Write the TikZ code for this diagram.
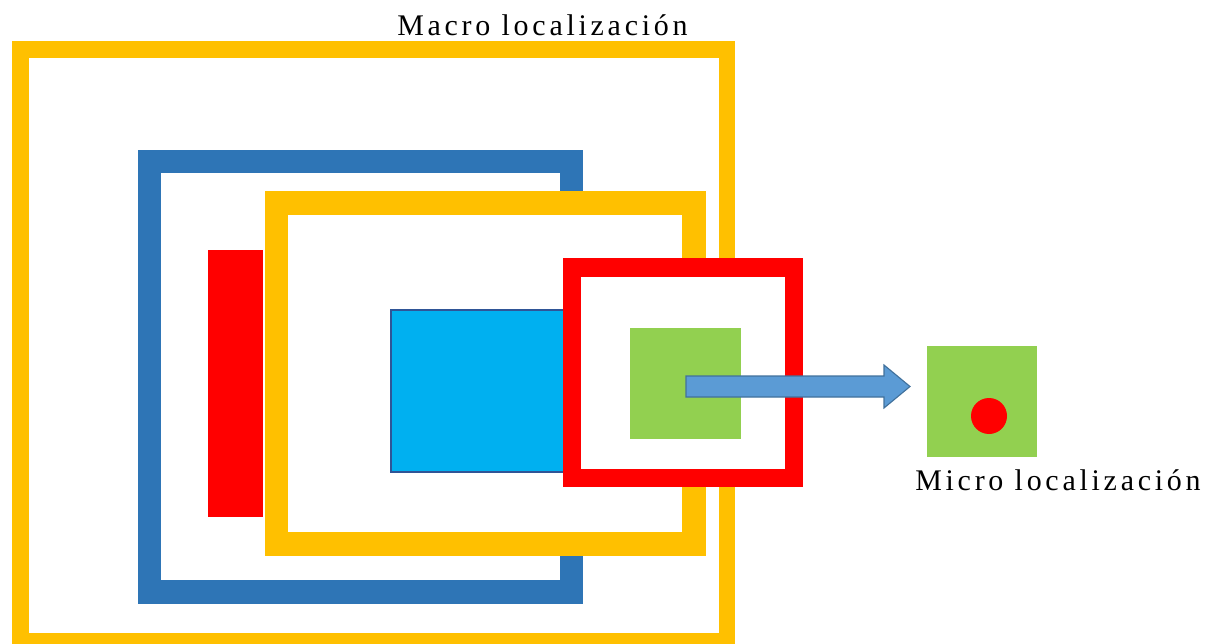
\documentclass[tikz,border=0pt]{standalone}
\usepackage{fontspec}
\setmainfont{Liberation Serif}
\newfontfamily\labelfont[LetterSpace=12.5]{Liberation Serif}
\usetikzlibrary{calc}

\definecolor{frameyellow}{HTML}{FFC000}
\definecolor{frameblue}{HTML}{2E75B6}
\definecolor{zonecyan}{HTML}{00B0F0}
\definecolor{cyanedge}{HTML}{2F5597}
\definecolor{sitegreen}{HTML}{92D050}
\definecolor{arrowblue}{HTML}{5B9BD5}
\definecolor{arrowedge}{HTML}{41719C}

\tikzset{
  yframe/.style={draw=frameyellow,line width=17*0.709pt},
  bframe/.style={draw=frameblue,line width=24*0.709pt},
  rframe/.style={draw=red,fill=white,line width=19*0.709pt},
  lbl/.style={font=\labelfont\fontsize{21.3pt}{24pt}\selectfont,inner sep=0pt,anchor=base west}
}

\begin{document}
\begin{tikzpicture}[x=0.025cm,y=-0.025cm]
  \useasboundingbox (0,0) rectangle (1205,644);

  % macro zone
  \draw[yframe] (20.5,49.5) rectangle (727,641.5);
  \draw[bframe] (149.5,161.5) rectangle (571.5,592);
  \fill[red] (208,250) rectangle (263,517);
  \filldraw[yframe,fill=white,line width=24*0.709pt] (276.5,203) rectangle (694,544);
  \filldraw[fill=zonecyan,draw=cyanedge,line width=0.8pt] (391,310) rectangle (575,472);
  \filldraw[rframe] (572,267.5) rectangle (794,478);
  \fill[sitegreen] (630,328) rectangle (741,439);

  % micro zone
  \fill[sitegreen] (927,346) rectangle (1037,457);
  \fill[red] (989,416) circle (18);

  \coordinate (src) at (686,386.5);
  \coordinate (dst) at (910,386.5);
  \filldraw[fill=arrowblue,draw=arrowedge,line width=0.8pt]
    (src) ++(0,-10.5) -- ++(198,0) -- ++(0,-11) -- (dst)
    -- ($(dst)+(-26,21.5)$) -- ++(0,-11) -- ($(src)+(0,10.5)$) -- cycle;

  \node[lbl] (macro) at (397,36) {Macro localización};
  \node[lbl] (micro) at (915,490) {Micro localización};

\end{tikzpicture}
\end{document}
